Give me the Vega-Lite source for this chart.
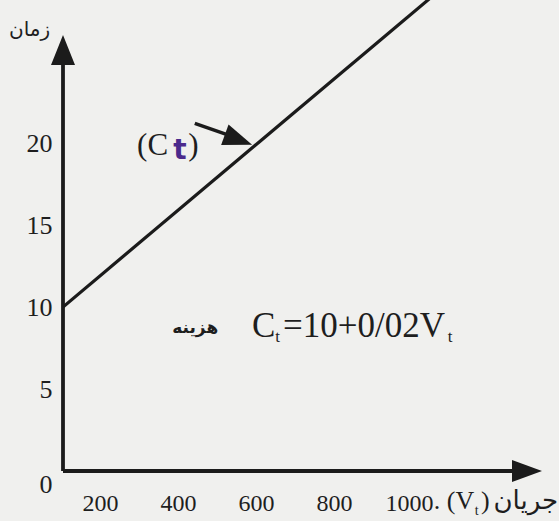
{
  "$schema": "https://vega.github.io/schema/vega-lite/v6.json",
  "width": 496,
  "height": 471,
  "autosize": {"type": "none"},
  "padding": {"left": 63, "top": 0, "right": 0, "bottom": 50},
  "background": "#f0f0ee",
  "config": {"view": {"stroke": null}, "font": "Liberation Serif"},
  "encoding": {
    "x": {
      "field": "v", "type": "quantitative",
      "scale": {"domain": [0, 1272], "nice": false, "zero": false},
      "axis": {
        "values": [200, 400, 600, 800, 1000], "format": "d", "domain": false, "ticks": false, "grid": false,
        "labelOffset": {"condition": {"test": "datum.value === 1000", "value": -44}, "value": -41},
        "labelPadding": 20, "labelFontSize": 24, "labelFont": "Liberation Serif",
        "labelColor": "#1e1e1e", "labelFlush": false, "labelOverlap": false, "title": null
      }
    },
    "y": {
      "field": "c", "type": "quantitative",
      "scale": {"domain": [0, 28.72], "nice": false, "zero": false},
      "axis": {
        "values": [0, 5, 10, 15, 20], "domain": false, "ticks": false, "grid": false,
        "labelPadding": 11, "labelFontSize": 26, "labelFont": "Liberation Serif", "labelColor": "#1e1e1e",
        "labelOffset": {"condition": {"test": "datum.value === 0", "value": 13}, "value": 0},
        "labelFlush": false, "labelOverlap": false, "title": null
      }
    }
  },
  "layer": [
    {
      "data": {"values": [{"v": 0, "c": 0, "c2": 25.0}]},
      "mark": {"type": "rule", "strokeWidth": 3.8, "color": "#1b1b1b"},
      "encoding": {"y2": {"field": "c2"}}
    },
    {
      "data": {"values": [{"v": 0, "v2": 1160, "c": 0}]},
      "mark": {"type": "rule", "strokeWidth": 3.8, "color": "#1b1b1b"},
      "encoding": {"x2": {"field": "v2"}}
    },
    {
      "data": {"values": [{"v": 0, "c": 25.67}]},
      "mark": {"type": "point", "filled": true, "opacity": 1, "color": "#1b1b1b", "size": 900, "shape": "M0,-1L0.8,1L-0.8,1Z"}
    },
    {
      "data": {"values": [{"v": 1190, "c": 0}]},
      "mark": {"type": "point", "filled": true, "opacity": 1, "color": "#1b1b1b", "size": 900, "shape": "M1,0L-1,-0.73L-1,0.73Z"}
    },
    {
      "data": {"values": [{"v": 0, "c": 10}, {"v": 1000, "c": 30}]},
      "mark": {"type": "line", "clip": true, "strokeWidth": 3.2, "color": "#1b1b1b"}
    },
    {
      "data": {"values": [{"v": 338, "c": 21.2, "v2": 454, "c2": 20.24}]},
      "mark": {"type": "rule", "strokeWidth": 3.5, "color": "#1b1b1b"},
      "encoding": {"x2": {"field": "v2"}, "y2": {"field": "c2"}}
    },
    {
      "data": {"values": [{"v": 450, "c": 20.2}]},
      "mark": {"type": "point", "filled": true, "opacity": 1, "color": "#1b1b1b", "size": 841, "angle": 20, "shape": "M1,0L-1,-0.75L-1,0.75Z"}
    },
    {
      "data": {"values": [{"v": 190, "c": 19.27, "label": "(C"}, {"v": 321, "c": 19.27, "label": ")"}]},
      "mark": {"type": "text", "align": "left", "baseline": "alphabetic", "fontSize": 31, "font": "Liberation Serif", "color": "#1e1e1e"},
      "encoding": {"text": {"field": "label"}}
    },
    {
      "data": {"values": [{"v": 300, "c": 19.0, "label": "t"}]},
      "mark": {"type": "text", "align": "center", "baseline": "alphabetic", "fontSize": 28, "fontWeight": "bold", "font": "DejaVu Sans", "color": "#4b2a8c"},
      "encoding": {"text": {"field": "label"}}
    },
    {
      "data": {"values": [{"v": 398, "c": 8.4, "label": "هزینه"}]},
      "mark": {"type": "text", "align": "right", "baseline": "alphabetic", "fontSize": 17, "fontWeight": "bold", "font": "DejaVu Sans", "color": "#1e1e1e"},
      "encoding": {"text": {"field": "label"}}
    },
    {
      "data": {"values": [{"v": 485, "c": 8.17, "label": "C"}, {"v": 564, "c": 8.17, "label": "=10+0/02V"}]},
      "mark": {"type": "text", "align": "left", "baseline": "alphabetic", "fontSize": 35, "font": "Liberation Serif", "color": "#1e1e1e"},
      "encoding": {"text": {"field": "label"}}
    },
    {
      "data": {"values": [{"v": 544, "c": 7.85, "label": "t"}, {"v": 987, "c": 7.85, "label": "t"}]},
      "mark": {"type": "text", "align": "left", "baseline": "alphabetic", "fontSize": 17, "font": "Liberation Serif", "color": "#1e1e1e"},
      "encoding": {"text": {"field": "label"}}
    },
    {
      "data": {"values": [{"v": 951, "c": -2.3, "label": ". (V"}, {"v": 1072, "c": -2.3, "label": ")"}]},
      "mark": {"type": "text", "align": "left", "baseline": "alphabetic", "fontSize": 26, "font": "Liberation Serif", "color": "#1e1e1e"},
      "encoding": {"text": {"field": "label"}}
    },
    {
      "data": {"values": [{"v": 1056, "c": -2.7, "label": "t"}]},
      "mark": {"type": "text", "align": "left", "baseline": "alphabetic", "fontSize": 14, "font": "Liberation Serif", "color": "#1e1e1e"},
      "encoding": {"text": {"field": "label"}}
    },
    {
      "data": {"values": [{"v": 1104, "c": -2.3, "label": "جریان"}]},
      "mark": {"type": "text", "align": "left", "baseline": "alphabetic", "fontSize": 26, "font": "DejaVu Sans", "color": "#1e1e1e"},
      "encoding": {"text": {"field": "label"}}
    },
    {
      "data": {"values": [{"v": -33, "c": 26.5, "label": "زمان"}]},
      "mark": {"type": "text", "align": "right", "baseline": "alphabetic", "fontSize": 20, "font": "DejaVu Sans", "color": "#1e1e1e"},
      "encoding": {"text": {"field": "label"}}
    }
  ]
}
